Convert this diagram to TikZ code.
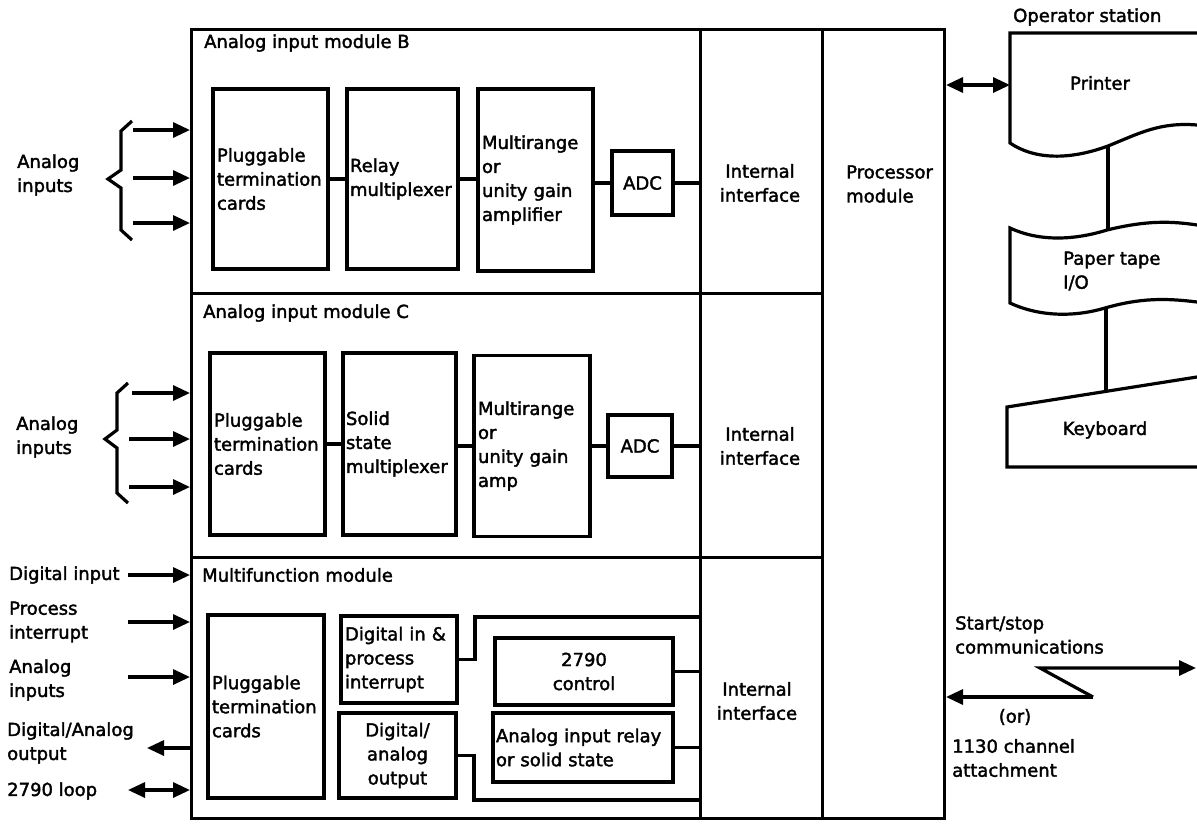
\documentclass[tikz,border=0pt]{standalone}
\usepackage{fontspec}
\setmainfont{DejaVu Sans}[UprightFeatures={FakeBold=2}]
\usetikzlibrary{arrows.meta}
\newcommand\tx{\fontsize{18}{24}\selectfont}
\tikzset{
 ln/.style={line width=3.2pt},
 blk/.style={draw, line width=3.2pt, inner xsep=4pt, inner ysep=0pt, align=left, font=\tx},
 frm/.style={draw, line width=3pt, inner sep=0pt, anchor=north west},
 lbl/.style={inner sep=0pt, align=left, font=\tx},
 tip/.style={-{Triangle[length=17pt,width=15pt]}},
 dtip/.style={{Triangle[length=17pt,width=15pt]}-{Triangle[length=17pt,width=15pt]}},
}
\begin{document}
\begin{tikzpicture}[x=1pt,y=-1pt]
\useasboundingbox (0,0) rectangle (1197,823);
% frame
\node[frm, minimum width=509pt, minimum height=264pt] (modB) at (190,28) {};
\node[frm, minimum width=509pt, minimum height=264pt] (modC) at (190,292) {};
\node[frm, minimum width=509pt, minimum height=261pt] (modM) at (190,556) {};
\node[frm, minimum width=122pt, minimum height=264pt] (ifB) at (699,28) {};
\node[frm, minimum width=122pt, minimum height=264pt] (ifC) at (699,292) {};
\node[frm, minimum width=122pt, minimum height=261pt] (ifM) at (699,556) {};
\node[frm, minimum width=122pt, minimum height=789pt] (proc) at (821,28) {};
% titles
\node[lbl, anchor=west] (tB) at (204,43) {Analog input module B};
\node[lbl, anchor=west] (tC) at (203,313) {Analog input module C};
\node[lbl, anchor=west] (tM) at (202,575) {Multifunction module};
\node[lbl, align=center] (iB) at (760,183) {Internal\\interface};
\node[lbl, align=center] (iC) at (760,446) {Internal\\interface};
\node[lbl, align=center] (iM) at (757,701) {Internal\\interface};
\node[lbl, anchor=west] (pT) at (846,184) {Processor\\module};
% module B
\node[blk, minimum width=115pt, text width=107pt, minimum height=180pt] (bP) at (270.5,179) {Pluggable\\termination\\cards};
\node[blk, minimum width=111pt, text width=105pt, inner xsep=3pt, minimum height=180pt] (bR) at (402.5,179) {Relay\\multiplexer};
\node[blk, minimum width=115pt, text width=107pt, minimum height=182pt] (bM) at (535.5,180) {Multirange\\or\\unity gain\\amplifier};
\node[blk, align=center, minimum width=61pt, text width=53pt, minimum height=64pt] (bA) at (642.5,183) {ADC};
\draw[ln] (bP.east) -- (bP.east -| bR.west);
\draw[ln] (bR.east) -- (bR.east -| bM.west);
\draw[ln] (bA.west -| bM.east) -- (bA.west);
\draw[ln] (bA.east) -- (bA.east -| ifB.west);
% module C
\node[blk, minimum width=115pt, text width=107pt, minimum height=182pt] (cP) at (267.5,444) {Pluggable\\termination\\cards};
\node[blk, minimum width=113pt, text width=107pt, inner xsep=3pt, minimum height=182pt] (cS) at (399.5,444) {Solid\\state\\multiplexer};
\node[blk, minimum width=116pt, text width=108pt, minimum height=181pt] (cM) at (532,446) {Multirange\\or\\unity gain\\amp};
\node[blk, align=center, minimum width=64pt, text width=56pt, minimum height=62pt] (cA) at (640,446) {ADC};
\draw[ln] (cP.east) -- (cP.east -| cS.west);
\draw[ln] (cS.east |- cM.west) -- (cM.west);
\draw[ln] (cM.east) -- (cA.west);
\draw[ln] (cA.east) -- (cA.east -| ifC.west);
% multifunction
\node[blk, minimum width=116pt, text width=108pt, minimum height=183pt] (mP) at (266,706.5) {Pluggable\\termination\\cards};
\node[blk, minimum width=116pt, text width=108pt, minimum height=87pt] (mD) at (399,659.5) {Digital in \&\\process\\interrupt};
\node[blk, align=center, minimum width=117pt, text width=109pt, minimum height=85pt] (mO) at (397.5,755.5) {Digital/\\analog\\output};
\node[blk, align=center, minimum width=178pt, text width=170pt, minimum height=67pt] (m2) at (584,671.5) {2790\\control};
\node[blk, minimum width=180pt, text width=174pt, inner xsep=3pt, minimum height=69pt] (mA) at (583,747.5) {Analog input relay\\or solid state};
\coordinate (jD) at (475,617);
\coordinate (jO) at (474,800);
\draw[ln] (mD.east) -| (jD) -- (jD -| ifM.west);
\draw[ln] (mO.east) -| (jO) -- (jO -| ifM.west);
\draw[ln] (m2.east) -- (m2.east -| ifM.west);
\draw[ln] (mA.east) -- (mA.east -| ifM.west);
% left inputs B
\node[lbl, anchor=west] (lB) at (17,175) {Analog\\inputs};
\draw[ln] (132,121) -- (121,131) -- (121,170) -- (108,179) -- (121,188) -- (121,230) -- (132,240);
\coordinate (aB1) at (133,130);
\coordinate (aB2) at (133,178);
\coordinate (aB3) at (133,223);
\draw[ln,tip] (aB1) -- (aB1 -| modB.west);
\draw[ln,tip] (aB2) -- (aB2 -| modB.west);
\draw[ln,tip] (aB3) -- (aB3 -| modB.west);
% left inputs C
\node[lbl, anchor=west] (lC) at (16,437) {Analog\\inputs};
\draw[ln] (128,383) -- (117,393) -- (117,430) -- (105,439) -- (117,448) -- (117,493) -- (128,503);
\coordinate (aC1) at (132,393);
\coordinate (aC2) at (129,439);
\coordinate (aC3) at (129,487);
\draw[ln,tip] (aC1) -- (aC1 -| modC.west);
\draw[ln,tip] (aC2) -- (aC2 -| modC.west);
\draw[ln,tip] (aC3) -- (aC3 -| modC.west);
% left inputs multifunction
\node[lbl, anchor=west] (lDI) at (9,575) {Digital input};
\node[lbl, anchor=west] (lPI) at (9,622) {Process\\interrupt};
\node[lbl, anchor=west] (lAI) at (9,680) {Analog\\inputs};
\node[lbl, anchor=west] (lDO) at (7,743) {Digital/Analog\\output};
\node[lbl, anchor=west] (lLp) at (7,791) {2790 loop};
\coordinate (aM1) at (128,575);
\coordinate (aM2) at (128,622);
\coordinate (aM3) at (128,677);
\coordinate (aM4) at (147,748);
\coordinate (aM5) at (128,790);
\draw[ln,tip] (aM1) -- (aM1 -| modM.west);
\draw[ln,tip] (aM2) -- (aM2 -| modM.west);
\draw[ln,tip] (aM3) -- (aM3 -| modM.west);
\draw[ln,tip] (aM4 -| modM.west) -- (aM4);
\draw[ln,dtip] (aM5) -- (aM5 -| modM.west);
% operator station
\node[lbl, anchor=west] (os) at (1013,17) {Operator station};
\draw[ln] (1197,33) -- (1010,33) -- (1010,143) .. controls (1035,160) and (1070,160) .. (1108,146) .. controls (1140,133) and (1160,122) .. (1197,125);
\draw[ln] (1197,225) .. controls (1165,220) and (1140,222) .. (1107,230) .. controls (1075,240) and (1040,242) .. (1010,228) -- (1010,303) .. controls (1040,317) and (1075,317) .. (1105,308) .. controls (1140,298) and (1165,298) .. (1197,302);
\draw[ln] (1197,377) -- (1007,407) -- (1007,467) -- (1197,467);
\node[lbl] (prT) at (1100,83) {Printer};
\node[lbl, anchor=west] (ptT) at (1063,271) {Paper tape\\I/O};
\node[lbl] (kbT) at (1105,430) {Keyboard};
\coordinate (prB) at (1108,146);
\coordinate (ptTop) at (1108,231);
\coordinate (ptBot) at (1106,309);
\coordinate (kbTop) at (1106,391);
\draw[ln] (prB) -- (ptTop);
\draw[ln] (ptBot) -- (kbTop);
\coordinate (prL) at (1010,85);
\draw[ln,dtip] (prL -| proc.east) -- (prL);
% communications
\node[lbl, anchor=west] (ss) at (955,635) {Start/stop\\communications};
\node[lbl] (orT) at (1015,717) {(or)};
\node[lbl, anchor=west] (ch) at (952,758) {1130 channel\\attachment};
\coordinate (z1) at (1040,668);
\coordinate (z2) at (1093,697);
\coordinate (zR) at (1196,668);
\draw[ln,tip] (z2) -- (z2 -| proc.east);
\draw[ln,tip] (z2) -- (z1) -- (zR);
\end{tikzpicture}
\end{document}
